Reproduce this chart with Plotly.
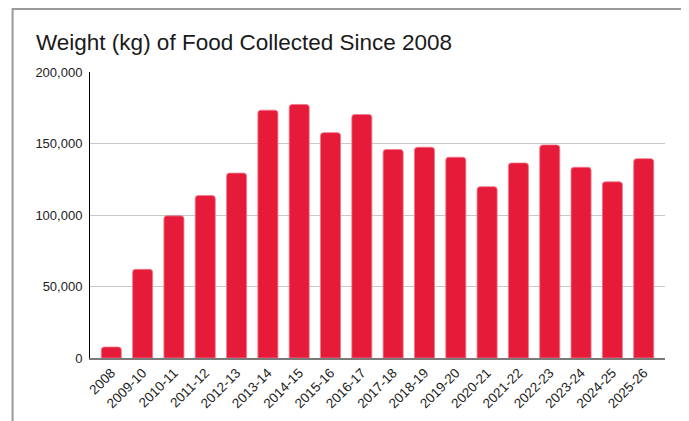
import plotly.graph_objects as go

categories = ["2008", "2009-10", "2010-11", "2011-12", "2012-13", "2013-14",
              "2014-15", "2015-16", "2016-17", "2017-18", "2018-19", "2019-20",
              "2020-21", "2021-22", "2022-23", "2023-24", "2024-25", "2025-26"]
weights_kg = [7700, 62000, 99400, 113600, 129300, 173300,
              177300, 157600, 170300, 145800, 147400, 140400,
              119800, 136400, 149000, 133400, 123200, 139400]
y_ticks = [0, 50000, 100000, 150000, 200000]
title_text = "Weight (kg) of Food Collected Since 2008"

BAR_COLOR = "#E61B3A"
FONT = "Liberation Sans, Arial, sans-serif"

fig = go.Figure()
fig.add_trace(go.Bar(
    x=categories,
    y=weights_kg,
    marker=dict(color=BAR_COLOR, line=dict(color="#F07A8C", width=0.8)),
    hoverinfo="x+y",
))

# page body has an 8px margin, so the figure is drawn 8px in from the window corner
OFF = 8
W, H = 689 - OFF, 421 - OFF
L, T = 90 - OFF, 72 - OFF
PLOT_RIGHT, PLOT_BOTTOM = 665.5 - OFF, 358 - OFF
R, B = W - PLOT_RIGHT, H - PLOT_BOTTOM
pw = W - L - R
ph = H - T - B

def px_to_paper_x(px):
    return (px - OFF - L) / pw

def px_to_paper_y(py):
    return (PLOT_BOTTOM - (py - OFF)) / ph

fig.update_layout(
    width=W, height=H,
    margin=dict(l=L, r=R, t=T, b=B, pad=0, autoexpand=False),
    paper_bgcolor="white",
    plot_bgcolor="white",
    font=dict(family=FONT, size=13, color="#222222"),
    bargap=0.36,
    barcornerradius=3,
    showlegend=False,
    title=dict(
        text=title_text,
        x=(36 - OFF) / W, xanchor="left", xref="container",
        y=1 - (42 - OFF) / H, yanchor="middle", yref="container",
        font=dict(family=FONT, size=22.5, color="#1a1a1a"),
    ),
    xaxis=dict(
        type="category",
        automargin=False,
        range=[-0.68, len(categories) - 1 + 0.68],
        tickangle=-45,
        showgrid=False,
        showline=True, linecolor="#7a7a7a", linewidth=1.5,
        ticks="",
        tickfont=dict(size=13.5, color="#222222"),
        fixedrange=True,
    ),
    yaxis=dict(
        automargin=False,
        range=[0, 200000],
        tickvals=y_ticks,
        tickformat=",",
        showgrid=True, gridcolor="#c8c8c8", gridwidth=1,
        zeroline=False,
        showline=True, linecolor="#000000", linewidth=1,
        ticks="",
        ticklabelstandoff=4,
        tickfont=dict(size=13, color="#222222"),
        fixedrange=True,
    ),
    shapes=[dict(
        type="rect", xref="paper", yref="paper",
        x0=px_to_paper_x(12.5), x1=px_to_paper_x(686.5),
        y0=px_to_paper_y(421 + 20), y1=px_to_paper_y(9),
        line=dict(color="#9a9a9a", width=2),
        fillcolor="rgba(0,0,0,0)",
        layer="above",
    )],
)

fig.write_html(
    "out.html",
    post_script="document.documentElement.style.overflow='hidden';document.body.style.overflow='hidden';",
)
